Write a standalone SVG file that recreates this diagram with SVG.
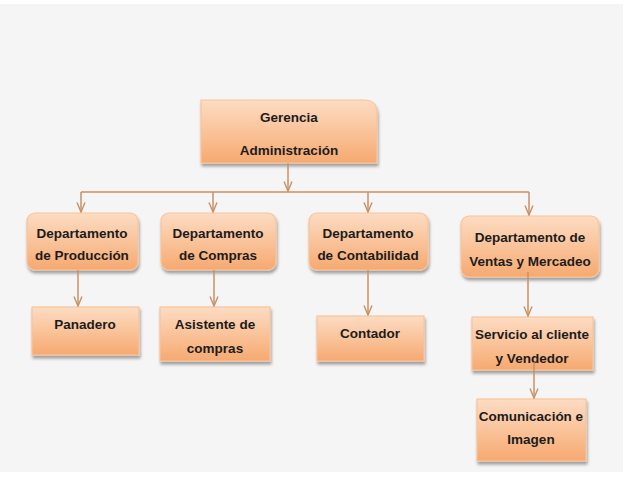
<svg xmlns="http://www.w3.org/2000/svg" width="627" height="499" viewBox="0 0 627 499">
<defs>
<linearGradient id="g" x1="0" y1="0" x2="0" y2="1">
<stop offset="0" stop-color="#fcdcc3"/>
<stop offset="0.5" stop-color="#fac39a"/>
<stop offset="1" stop-color="#f6a970"/>
</linearGradient>
<filter id="sh" x="-10%" y="-10%" width="130%" height="140%">
<feDropShadow dx="1" dy="3" stdDeviation="1.6" flood-color="#000" flood-opacity="0.35"/>
</filter>
<marker id="ar" markerWidth="11" markerHeight="10" refX="10" refY="5" orient="auto" markerUnits="userSpaceOnUse" viewBox="0 0 11 10">
<path d="M0.5,1 L10,5 L0.5,9" fill="none" stroke="#c99066" stroke-width="1.4"/>
</marker>
</defs>
<style>
.box{fill:url(#g);stroke:#f8c49c;stroke-width:1.2;filter:url(#sh)}
.t{font-family:"Liberation Sans",Arial,sans-serif;font-weight:bold;font-size:13.5px;fill:#1c1c1c;text-anchor:middle}
.c{fill:none;stroke:#c99066;stroke-width:1.5}
</style>
<rect x="0" y="0" width="627" height="499" fill="#ffffff"/>
<rect x="0" y="4" width="623" height="468" fill="#f5f5f5"/>

<g id="gerencia">
<path class="box" d="M201,100 H364 Q377,100 377,113 V163 H201 Z"/>
<text class="t" x="289" y="122">Gerencia</text>
<text class="t" x="289" y="155">Administración</text>
</g>

<g id="produccion">
<rect class="box" x="27" y="213" width="111" height="57" rx="8"/>
<text class="t" x="82" y="238">Departamento</text>
<text class="t" x="82" y="260">de Producción</text>
</g>
<g id="compras">
<rect class="box" x="161" y="213" width="115" height="57" rx="8"/>
<text class="t" x="218" y="238">Departamento</text>
<text class="t" x="218" y="260">de Compras</text>
</g>
<g id="contabilidad">
<rect class="box" x="309" y="213" width="119" height="57" rx="8"/>
<text class="t" x="368" y="238">Departamento</text>
<text class="t" x="368" y="260">de Contabilidad</text>
</g>
<g id="ventas">
<rect class="box" x="461" y="216" width="138" height="61" rx="8"/>
<text class="t" x="530" y="242">Departamento de</text>
<text class="t" x="530" y="266">Ventas y Mercadeo</text>
</g>

<g id="panadero">
<rect class="box" x="32" y="307" width="107" height="48"/>
<text class="t" x="85" y="329">Panadero</text>
</g>
<g id="asistente">
<rect class="box" x="160" y="307" width="110" height="54"/>
<text class="t" x="215" y="329">Asistente de</text>
<text class="t" x="215" y="353">compras</text>
</g>
<g id="contador">
<rect class="box" x="317" y="316" width="107" height="45"/>
<text class="t" x="370" y="338">Contador</text>
</g>
<g id="servicio">
<rect class="box" x="472" y="317" width="121" height="53"/>
<text class="t" x="532" y="339">Servicio al cliente</text>
<text class="t" x="532" y="363">y Vendedor</text>
</g>
<g id="comunicacion">
<rect class="box" x="477" y="399" width="109" height="62"/>
<text class="t" x="531" y="421">Comunicación e</text>
<text class="t" x="531" y="444">Imagen</text>
</g>

<g id="connectors">
<path class="c" d="M288,163 V191" marker-end="url(#ar)"/>
<path class="c" d="M81,192 H529"/>
<path class="c" d="M81,192 V212" marker-end="url(#ar)"/>
<path class="c" d="M213,192 V212" marker-end="url(#ar)"/>
<path class="c" d="M368,192 V212" marker-end="url(#ar)"/>
<path class="c" d="M529,192 V215" marker-end="url(#ar)"/>
<path class="c" d="M78,270 V306" marker-end="url(#ar)"/>
<path class="c" d="M214,270 V306" marker-end="url(#ar)"/>
<path class="c" d="M368,270 V315" marker-end="url(#ar)"/>
<path class="c" d="M528,272 V316" marker-end="url(#ar)"/>
<path class="c" d="M534,362 V398" marker-end="url(#ar)"/>
</g>
</svg>
